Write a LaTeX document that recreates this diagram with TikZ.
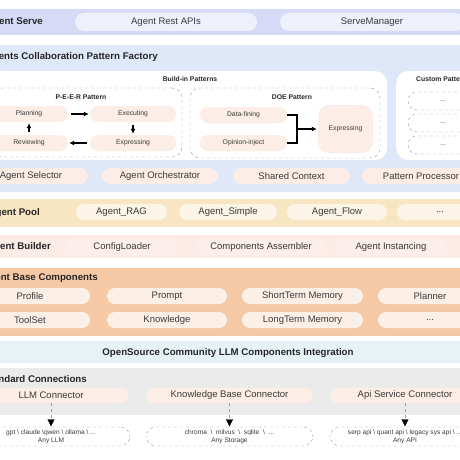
\documentclass[tikz,border=0pt]{standalone}
\usepackage{fontspec}
\setmainfont{Liberation Sans}
\usetikzlibrary{positioning,arrows.meta}

\definecolor{serveband}{HTML}{D6DAF6}
\definecolor{servepill}{HTML}{EEF0FC}
\definecolor{factband}{HTML}{DFE8F8}
\definecolor{peach}{HTML}{FCEEE6}
\definecolor{poolband}{HTML}{F8E5C2}
\definecolor{poolpill}{HTML}{FDF4E8}
\definecolor{buildband}{HTML}{FCEBE7}
\definecolor{buildpill}{HTML}{FCEEEA}
\definecolor{baseband}{HTML}{F6C9A6}
\definecolor{basepill}{HTML}{FCEFE6}
\definecolor{osband}{HTML}{E6F2F5}
\definecolor{connband}{HTML}{EBEBEB}
\definecolor{dashgray}{HTML}{9A9A9A}
\definecolor{txt}{HTML}{3A3A3A}

\newcommand{\pfont}{\fontsize{9.5}{11}\selectfont}
\newcommand{\tfont}{\fontsize{9.7}{11.5}\selectfont\bfseries}
\newcommand{\sfont}{\fontsize{6.8}{8}\selectfont}
\newcommand{\xsfont}{\fontsize{6.6}{7.6}\selectfont}
\newcommand{\bsep}{\ \ \textbackslash\ \ }

\begin{document}
\begin{tikzpicture}[x=1pt,y=-1pt,
  band/.style={rectangle,inner sep=0pt,minimum width=500pt},
  title/.style={anchor=east,font=\tfont,text=black!85,inner sep=0pt},
  pill/.style={rounded corners=8pt,inner sep=0pt,minimum height=16pt,font=\pfont,text=txt},
  spill/.style={rounded corners=8pt,inner sep=0pt,minimum height=16pt,fill=peach,font=\sfont,text=txt},
  dbox/.style={draw=dashgray,dashed,rounded corners=10pt,inner sep=0pt},
  stitle/.style={font=\sfont\bfseries,text=black!85,inner sep=0pt},
  parrow/.style={-{Latex[length=5pt,width=5pt]},line width=1.1pt,shorten <=3pt,shorten >=1pt},
  carrow/.style={draw=dashgray,dashed,-{Triangle[black,length=7pt,width=7pt]},shorten >=0.5pt}]
  \path[use as bounding box,clip] (0,0) rectangle (460,460);
  \fill[white] (0,0) rectangle (460,460);

  % agent serve
  \node[band,fill=serveband,minimum height=26pt] (serve) at (230,22) {};
  \node[title] (serveT) at (43,22) {Agent Serve};
  \node[pill,fill=servepill,minimum width=182pt,minimum height=18pt,rounded corners=9pt] (rest) at (166,22) {Agent Rest APIs};
  \node[pill,fill=servepill,minimum width=184pt,minimum height=18pt,rounded corners=9pt] (smgr) at (372,22) {ServeManager};

  % pattern factory
  \node[band,fill=factband,minimum height=147pt] (fact) at (230,118.5) {};
  \node[title] (factT) at (158,57) {Agents Collaboration Pattern Factory};
  \node[rectangle,rounded corners=12pt,fill=white,minimum width=397pt,minimum height=89pt] (buildin) at (188.5,115.5) {};
  \node[stitle] (buildinT) at (190,79) {Build-in Patterns};
  \node[rectangle,rounded corners=12pt,fill=white,minimum width=84pt,minimum height=89pt,anchor=west] (custom) at (396,115.5) {};
  \node[stitle,anchor=west] (customT) at (416,79) {Custom Patterns};
  \node[dbox,minimum width=70pt,minimum height=18pt,rounded corners=9pt,font=\xsfont,text=txt] (cu1) at (443,101) {...};
  \node[dbox,minimum width=70pt,minimum height=18pt,rounded corners=9pt,font=\xsfont,text=txt] (cu2) at (443,123) {...};
  \node[dbox,minimum width=70pt,minimum height=18pt,rounded corners=9pt,font=\xsfont,text=txt] (cu3) at (443,145) {...};

  % P-E-E-R
  \node[dbox,minimum width=190pt,minimum height=69pt] (peer) at (87,122.5) {};
  \node[stitle] (peerT) at (81,97) {P-E-E-R Pattern};
  \node[spill,minimum width=78pt] (plan) at (29,114) {Planning};
  \node[spill,minimum width=86pt] (exec) at (133,114) {Executing};
  \node[spill,minimum width=78pt] (rev) at (29,143) {Reviewing};
  \node[spill,minimum width=86pt] (expr) at (133,143) {Expressing};
  \draw[parrow] (plan) -- (exec);
  \draw[parrow] (exec) -- (expr);
  \draw[parrow] (expr) -- (rev);
  \draw[parrow] (rev) -- (plan);

  % DOE
  \node[dbox,minimum width=190pt,minimum height=70pt] (doe) at (285,123) {};
  \node[stitle] (doeT) at (292,97) {DOE Pattern};
  \node[spill,minimum width=87pt] (dfin) at (243.5,115) {Data-fining};
  \node[spill,minimum width=87pt] (opin) at (243.5,143) {Opinion-inject};
  \node[spill,minimum width=55pt,minimum height=48pt,rounded corners=11pt] (dexp) at (345.5,129) {Expressing};
  \coordinate (join) at (297,129);
  \draw[line width=1.1pt] (dfin.east) -| (join);
  \draw[line width=1.1pt] (opin.east) -| (join);
  \draw[parrow,shorten <=0pt] (join) -- (dexp.west);

  \node[pill,fill=peach,minimum width=114pt] (sel) at (31,176) {Agent Selector};
  \node[pill,fill=peach,minimum width=116pt] (orch) at (160,176) {Agent Orchestrator};
  \node[pill,fill=peach,minimum width=117pt] (ctx) at (291.5,176) {Shared Context};
  \node[pill,fill=peach,minimum width=118pt] (proc) at (421,176) {Pattern Processor};

  % agent pool
  \node[band,fill=poolband,minimum height=28pt] (pool) at (230,213) {};
  \node[title] (poolT) at (40,213) {Agent Pool};
  \node[pill,fill=poolpill,minimum width=91pt] (rag) at (121.5,212) {Agent\_RAG};
  \node[pill,fill=poolpill,minimum width=98pt] (simple) at (228,212) {Agent\_Simple};
  \node[pill,fill=poolpill,minimum width=100pt] (flow) at (337,212) {Agent\_Flow};
  \node[pill,fill=poolpill,minimum width=86pt] (poolmore) at (440,212) {...};

  % agent builder
  \node[band,fill=buildband,minimum height=23pt] (build) at (230,246.5) {};
  \node[title] (buildT) at (51,247) {Agent Builder};
  \node[pill,fill=buildpill,minimum width=112pt] (cfg) at (122,247) {ConfigLoader};
  \node[pill,fill=buildpill,minimum width=130pt] (asm) at (261,247) {Components Assembler};
  \node[pill,fill=buildpill,minimum width=112pt] (inst) at (391,247) {Agent Instancing};

  % base components
  \node[band,fill=baseband,minimum height=68pt] (base) at (230,302) {};
  \node[title] (baseT) at (98,278) {Agent Base Components};
  \node[pill,fill=basepill,minimum width=120pt] (prof) at (30,296) {Profile};
  \node[pill,fill=basepill,minimum width=120pt] (prompt) at (167,296) {Prompt};
  \node[pill,fill=basepill,minimum width=121pt] (stm) at (302.5,296) {ShortTerm Memory};
  \node[pill,fill=basepill,minimum width=104pt] (planner) at (430,296) {Planner};
  \node[pill,fill=basepill,minimum width=120pt] (tools) at (30,320) {ToolSet};
  \node[pill,fill=basepill,minimum width=120pt] (know) at (167,320) {Knowledge};
  \node[pill,fill=basepill,minimum width=121pt] (ltm) at (302.5,320) {LongTerm Memory};
  \node[pill,fill=basepill,minimum width=104pt] (basemore) at (430,320) {...};

  % open source
  \node[band,fill=osband,minimum height=22pt] (os) at (230,352) {};
  \node[font=\tfont,text=black!85,inner sep=0pt] (osT) at (228,353) {OpenSource Community LLM Components Integration};

  % standard connections
  \node[band,fill=connband,minimum height=47pt] (conn) at (230,391.5) {};
  \node[title] (connT) at (87,379) {Standard Connections};
  \node[pill,fill=peach,minimum width=156pt,minimum height=15pt] (llmc) at (51,395.5) {LLM Connector};
  \node[pill,fill=peach,minimum width=167pt,minimum height=15pt] (kbc) at (229.5,395.5) {Knowledge Base Connector};
  \node[pill,fill=peach,minimum width=150pt,minimum height=15pt] (apic) at (405,395.5) {Api Service Connector};

  \node[dbox,minimum width=158pt,minimum height=19pt,align=center,font=\xsfont,text=txt] (llmb) at (51,436.5) {gpt \textbackslash{} claude \textbackslash qwen \textbackslash{} ollama \textbackslash{} ...\\Any LLM};
  \node[dbox,minimum width=167pt,minimum height=19pt,align=center,font=\xsfont,text=txt] (kbb) at (229.5,436.5) {chroma\bsep milvus\bsep sqlite\bsep ...\\Any Storage};
  \node[dbox,minimum width=150pt,minimum height=19pt,align=center,font=\xsfont,text=txt] (apib) at (405,436.5) {serp api \textbackslash{} quant api \textbackslash{} legacy sys api \textbackslash{} ...\\Any API};
  \draw[carrow] (llmc) -- (llmb);
  \draw[carrow] (kbc) -- (kbb);
  \draw[carrow] (apic) -- (apib);
\end{tikzpicture}
\end{document}
